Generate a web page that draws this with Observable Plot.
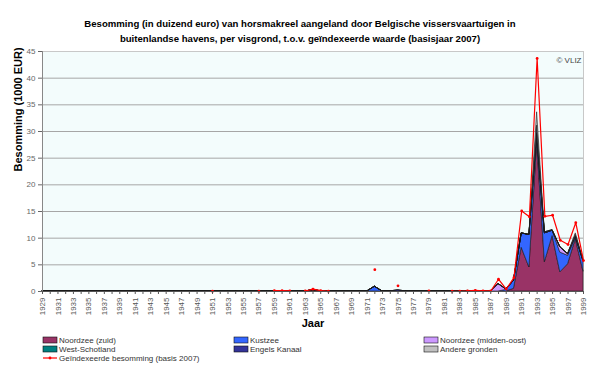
<!DOCTYPE html>
<html><head><meta charset="utf-8">
<script src="https://cdn.jsdelivr.net/npm/d3@7"></script>
<script src="https://cdn.jsdelivr.net/npm/@observablehq/plot@0.6"></script>
<style>body{margin:0;background:#fff} svg{display:block}</style>
</head><body><div id="chart"></div>
<script>
const titleLines = [
  "Besomming (in duizend euro) van horsmakreel aangeland door Belgische vissersvaartuigen in",
  "buitenlandse havens, per visgrond, t.o.v. geïndexeerde waarde (basisjaar 2007)"
];
const yLabel = "Besomming (1000 EUR)";
const xLabel = "Jaar";
const credit = "© VLIZ";
const years = d3.range(1929, 2000);
const yTicks = [0, 5, 10, 15, 20, 25, 30, 35, 40, 45];
const seriesNames = ["Noordzee (zuid)", "Kustzee", "Noordzee (midden-oost)", "West-Schotland", "Engels Kanaal", "Andere gronden"];
const seriesColors = ["#993366", "#3366ff", "#cc99ff", "#008080", "#333399", "#c0c0c0"];
const indexedName = "Geïndexeerde besomming (basis 2007)";

// values per year, 1929 .. 1999 (one line per decade)
const noordzeeZuid = [
  0,0,0,0,0,0,0,0,0,0,
  0,0,0,0,0,0,0,0,0,0,
  0,0,0,0,0,0,0,0,0,0,
  0,0.05,0,0,0,0.25,0.05,0,0,0,
  0,0,0,0,0,0,0,0,0,0,
  0,0,0,0,0,0.1,0,0,0,0,
  0,0.5,8.2,4.5,27.9,5.5,10.4,3.6,5.1,9.8,
  3.7];
const kustzee = [
  0,0,0,0,0,0,0,0,0,0,
  0,0,0,0,0,0,0,0,0,0,
  0,0,0,0,0,0,0,0,0,0,
  0,0,0,0,0,0,0,0,0,0,
  0,0,0,0.9,0,0,0,0,0,0,
  0,0,0,0,0,0,0,0,0,0,
  0.3,1.5,2.7,6.1,1.3,5.4,1.0,3.7,1.6,0.3,
  2.0];
const noordzeeMiddenOost = [
  0,0,0,0,0,0,0,0,0,0,
  0,0,0,0,0,0,0,0,0,0,
  0,0,0,0,0,0,0,0,0,0,
  0,0,0,0,0,0,0,0,0,0,
  0,0,0,0,0,0,0,0,0,0,
  0,0,0,0,0,0,0,0,0,1.4,
  0.1,0,0,0,0.3,0,0,1.0,0.3,0.2,
  0];
const westSchotland = [
  0,0,0,0,0,0,0,0,0,0,
  0,0,0,0,0,0,0,0,0,0,
  0,0,0,0,0,0,0,0,0,0,
  0,0,0,0,0,0,0,0,0,0,
  0,0,0,0,0,0,0,0,0,0,
  0,0,0,0,0,0,0,0,0,0,
  0,0,0,0,0.1,0,0,0,0,0,
  0];
const engelsKanaal = [
  0,0,0,0,0,0,0,0,0,0,
  0,0,0,0,0,0,0,0,0,0,
  0,0,0,0,0,0,0,0,0,0,
  0,0,0,0,0,0,0,0,0,0,
  0,0,0,0,0,0,0.25,0,0,0,
  0,0,0,0,0,0,0,0,0,0,
  0,0,0,0,1.5,0.2,0.1,0,0,0.3,
  0.1];
const andereGronden = [
  0,0,0,0,0,0,0,0,0,0,
  0,0,0,0,0,0,0,0,0,0,
  0,0,0,0,0,0,0,0,0,0,
  0,0,0,0,0,0,0,0,0,0,
  0,0,0,0,0,0,0,0,0,0,
  0,0,0,0,0,0,0,0,0,0,
  0,0,0,0,2.5,0,0,0,0,0.3,
  0];
const indexed = [
  null,null,null,null,null,null,null,null,null,null,
  null,null,null,null,null,null,null,null,null,null,
  null,null,0.05,null,null,null,null,null,0.05,null,
  0.15,0.15,0.1,null,0.1,0.45,0.15,0.05,null,null,
  null,null,null,4.1,null,null,1.07,null,null,null,
  0.1,null,null,0.05,0.05,0.1,0.2,0.1,0.1,2.3,
  0.45,2.6,15.1,14.0,43.7,14.1,14.3,9.6,8.8,12.9,
  5.8];

const seriesValues = [noordzeeZuid, kustzee, noordzeeMiddenOost, westSchotland, engelsKanaal, andereGronden];
const table = [];
seriesNames.forEach((s, k) => years.forEach((yr, i) => table.push({year: yr, series: s, value: seriesValues[k][i]})));
const redData = years.map((yr, i) => ({year: yr, value: indexed[i]}));

const font = "'Liberation Sans', Arial, sans-serif";
const titleFont = "'Liberation Sans Narrow', 'Liberation Sans', sans-serif";
const plot = Plot.plot({
  width: 600, height: 368,
  marginLeft: 42, marginRight: 17, marginTop: 51, marginBottom: 77,
  x: {domain: [1929, 1999]},
  y: {domain: [0, 45]},
  color: {domain: seriesNames, range: seriesColors},
  style: {fontFamily: font, background: "#fff", overflow: "visible"},
  marks: [
    Plot.frame({fill: "#f3fcfc", stroke: "#c8c8c8"}),
    Plot.ruleY(yTicks.filter(d => d > 0 && d < 45), {stroke: "#a6a6a6", strokeWidth: 1}),
    Plot.areaY(table, {x: "year", y: "value", fill: "series", z: "series", order: seriesNames, stroke: "#1a1a1a", strokeWidth: 0.6}),
    Plot.line(redData, {x: "year", y: "value", stroke: "#ff0000", strokeWidth: 1.2}),
    Plot.dot(redData.filter(d => d.value != null), {x: "year", y: "value", fill: "#ff0000", r: 1.4}),
    Plot.ruleY([0], {stroke: "#555"}),
    Plot.ruleX([1929], {stroke: "#888"}),
    Plot.axisY({ticks: yTicks, tickSize: 4, tickPadding: 3, fontSize: 8, color: "#666", label: null}),
    Plot.axisX({ticks: years, tickSize: 3, tickPadding: 3, tickRotate: -90, fontSize: 8, color: "#555",
      tickFormat: d => d % 2 === 1 ? String(d) : "", label: null}),
    Plot.text([xLabel], {frameAnchor: "bottom", dy: 35, fontWeight: "bold", fontSize: 11, fill: "#000"}),
    Plot.text([yLabel], {frameAnchor: "left", dx: -24, rotate: -90, fontWeight: "bold", fontSize: 11, fill: "#000"}),
    Plot.text([credit], {frameAnchor: "top-right", dx: -2, dy: 6, fontSize: 8, fill: "#444", textAnchor: "end"}),
    Plot.text([titleLines[0]], {frameAnchor: "top", dx: -13, dy: -31, fontWeight: "bold", fontSize: 9.6, fill: "#000", fontFamily: titleFont}),
    Plot.text([titleLines[1]], {frameAnchor: "top", dx: -13, dy: -16, fontWeight: "bold", fontSize: 9.6, fill: "#000", fontFamily: titleFont})
  ]
});

const svg = d3.select(plot);

// legend
const legendItems = [
  {name: seriesNames[0], color: seriesColors[0], col: 0, row: 0},
  {name: seriesNames[1], color: seriesColors[1], col: 1, row: 0},
  {name: seriesNames[2], color: seriesColors[2], col: 2, row: 0},
  {name: seriesNames[3], color: seriesColors[3], col: 0, row: 1},
  {name: seriesNames[4], color: seriesColors[4], col: 1, row: 1},
  {name: seriesNames[5], color: seriesColors[5], col: 2, row: 1}
];
const colX = [43, 234, 424], rowY = [340, 349, 358];
const lg = svg.append("g").attr("font-family", font).attr("font-size", 8).attr("fill", "#333").attr("text-anchor", "start");
legendItems.forEach(it => {
  lg.append("rect").attr("x", colX[it.col]).attr("y", rowY[it.row] - 3).attr("width", 14).attr("height", 6)
    .attr("fill", it.color).attr("stroke", "#111").attr("stroke-width", 0.6);
  lg.append("text").attr("x", colX[it.col] + 16).attr("y", rowY[it.row]).attr("dy", "0.32em").text(it.name);
});
lg.append("line").attr("x1", colX[0]).attr("x2", colX[0] + 14).attr("y1", rowY[2]).attr("y2", rowY[2]).attr("stroke", "#ff0000").attr("stroke-width", 1.2);
lg.append("circle").attr("cx", colX[0] + 7).attr("cy", rowY[2]).attr("r", 1.4).attr("fill", "#ff0000");
lg.append("text").attr("x", colX[0] + 16).attr("y", rowY[2]).attr("dy", "0.32em").text(indexedName);

document.getElementById("chart").appendChild(plot);
</script>
</body></html>
